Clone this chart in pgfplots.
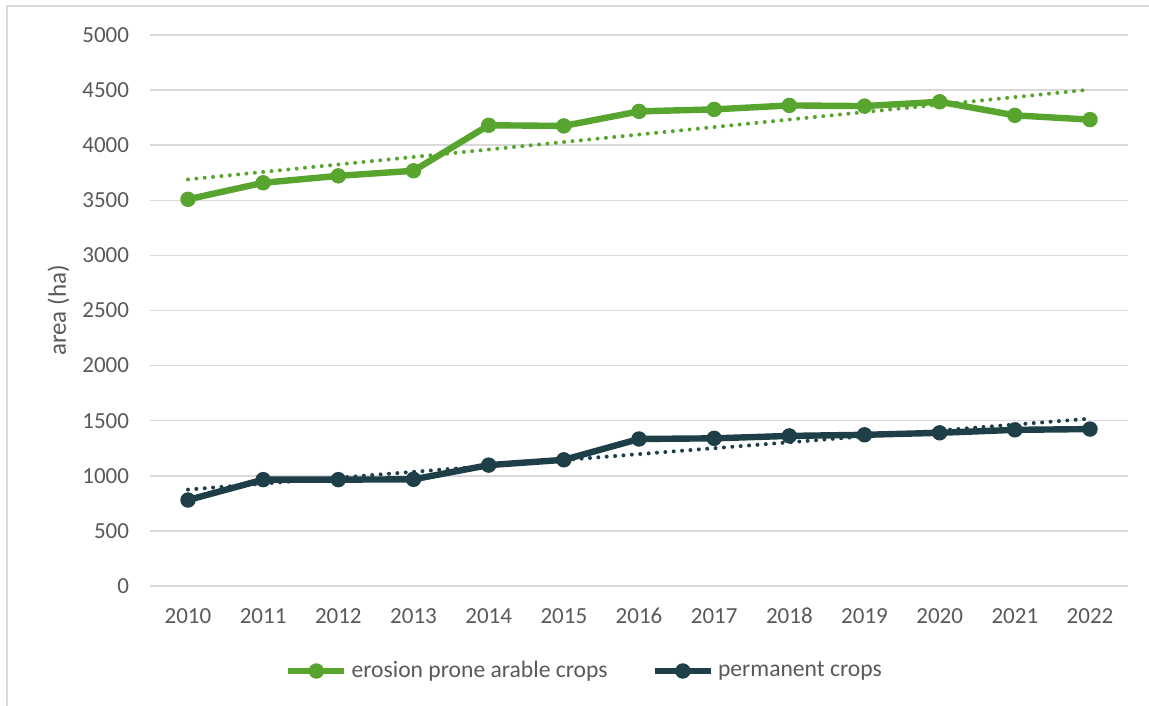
\documentclass[border=0pt]{standalone}
\usepackage{pgfplots}
\pgfplotsset{compat=1.18}
\usepackage{pgfplotstable}
\usepackage{fontspec}
\setmainfont{Carlito}

\definecolor{cropgreen}{HTML}{57A42F}
\definecolor{cropdark}{HTML}{1F3F48}
\definecolor{textgray}{HTML}{595959}
\definecolor{gridgray}{HTML}{D9D9D9}

% year index, erosion prone arable crops (g), permanent crops (p), in ha
\pgfplotstableread{
x g p
0 3509 780
1 3659 965
2 3722 965
3 3768 968
4 4181 1097
5 4175 1145
6 4307 1334
7 4325 1340
8 4361 1362
9 4355 1372
10 4394 1390
11 4271 1417
12 4232 1424
}\areadata

\begin{document}
\begin{tikzpicture}
\useasboundingbox (-75.2bp,-60bp) rectangle (499.3bp,293bp);
\draw[gridgray, line width=0.75bp] (-71.7bp,-61bp) -- (-71.7bp,290bp) -- (500bp,290bp);
\begin{axis}[
  scale only axis, width=488.6bp, height=275.5bp,
  at={(0,0)}, anchor=south west,
  xmin=-0.5, xmax=12.5, ymin=0, ymax=5000,
  xtick={0,1,2,3,4,5,6,7,8,9,10,11,12},
  xticklabels={2010,2011,2012,2013,2014,2015,2016,2017,2018,2019,2020,2021,2022},
  ytick={0,500,...,5000},
  ymajorgrids, grid style={gridgray, line width=0.75bp},
  axis line style={draw=none},
  major tick length=0pt,
  tick label style={font=\fontsize{11.5bp}{13bp}\selectfont, text=textgray},
  /pgf/number format/assume math mode=true,
  /pgf/number format/1000 sep={},
  yticklabel style={anchor=east, inner sep=0pt, xshift=-10.5bp},
  xticklabel style={anchor=base, inner sep=0pt, yshift=-18.75bp},
  ylabel={area (ha)},
  ylabel style={at={(axis description cs:-0.0864,0.5)}, anchor=base,
    font=\fontsize{12.5bp}{14bp}\selectfont, text=textgray},
  legend style={at={(axis description cs:0.4453,-0.1543)}, anchor=center,
    draw=none, fill=none, font=\fontsize{11.8bp}{14bp}\selectfont, text=textgray,
    /tikz/every even column/.append style={column sep=20bp}},
  legend columns=2,
  legend cell align=left,
  legend image code/.code={
    \draw[mark repeat=2, mark phase=2, #1] plot coordinates {(0bp,0bp) (14bp,0bp) (28bp,0bp)};
  },
  clip=false,
]
% dotted linear trends
\addplot[cropgreen, line width=2bp, dash pattern=on 0pt off 4.2bp, line cap=round, forget plot]
  table[x=x, y={create col/linear regression={y=g}}] {\areadata};
\addplot[cropdark, line width=2bp, dash pattern=on 0pt off 4.2bp, line cap=round, forget plot]
  table[x=x, y={create col/linear regression={y=p}}] {\areadata};
% yearly series
\addplot[cropgreen, line width=3.2bp, line join=round, mark=*, mark size=3.6bp,
  mark options={solid, line width=0.5bp}] table[x=x, y=g] {\areadata};
\addlegendentry{erosion prone arable crops}
\addplot[cropdark, line width=3.2bp, line join=round, mark=*, mark size=3.6bp,
  mark options={solid, line width=0.5bp}] table[x=x, y=p] {\areadata};
\addlegendentry{permanent crops}
\end{axis}
\end{tikzpicture}
\end{document}
